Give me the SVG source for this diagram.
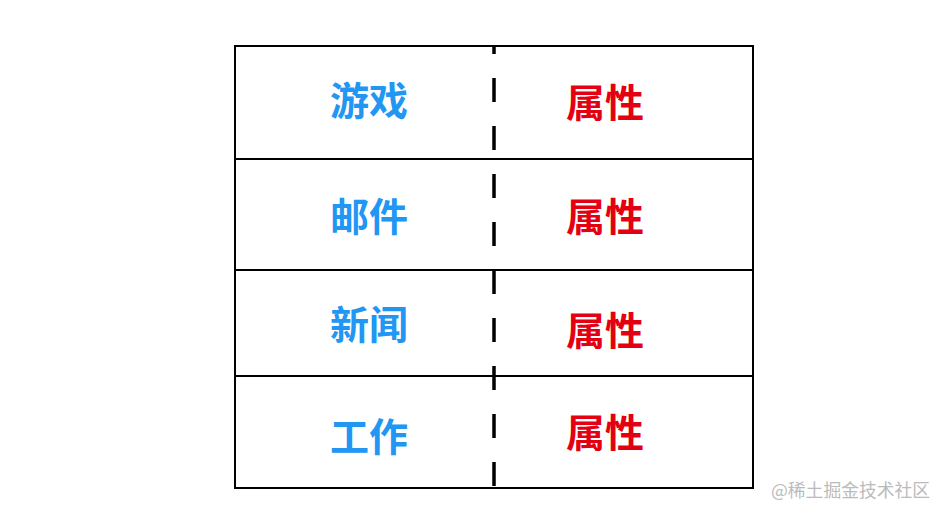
<svg xmlns="http://www.w3.org/2000/svg" width="948" height="518" viewBox="0 0 948 518">
<style>
.frame{fill:none;stroke:#000;stroke-width:2}
.div{stroke:#000;stroke-width:2}
.dash{stroke:#000;stroke-width:3.5;stroke-dasharray:24 24;stroke-dashoffset:16}
.k{font-family:"Noto Sans CJK SC","Noto Sans",sans-serif;font-weight:bold;font-size:39px;text-anchor:middle;fill:#2196F3}
.v{font-family:"Noto Sans CJK SC","Noto Sans",sans-serif;font-weight:bold;font-size:39px;text-anchor:middle;fill:#E30012}
.wm{font-family:"Noto Sans CJK SC","Noto Sans",sans-serif;font-size:17.8px;fill:#BBBBBB}
</style>
<rect width="948" height="518" fill="#fff"/>
<g id="table">
<rect class="frame" x="235" y="46" width="518" height="442"/>
</g>
<g id="connectors">
<line class="div" x1="235" y1="159" x2="753" y2="159"/>
<line class="div" x1="235" y1="270" x2="753" y2="270"/>
<line class="div" x1="235" y1="376" x2="753" y2="376"/>
<line class="dash" x1="494" y1="46" x2="494" y2="488"/>
</g>
<g id="row1"><text class="k" x="369" y="115">游戏</text><text class="v" x="605" y="116.5">属性</text></g>
<g id="row2"><text class="k" x="369" y="231">邮件</text><text class="v" x="605" y="231">属性</text></g>
<g id="row3"><text class="k" x="369" y="339">新闻</text><text class="v" x="605" y="345">属性</text></g>
<g id="row4"><text class="k" x="369" y="450.5">工作</text><text class="v" x="605" y="447">属性</text></g>
<text class="wm" x="771" y="497">@稀土掘金技术社区</text>
</svg>
